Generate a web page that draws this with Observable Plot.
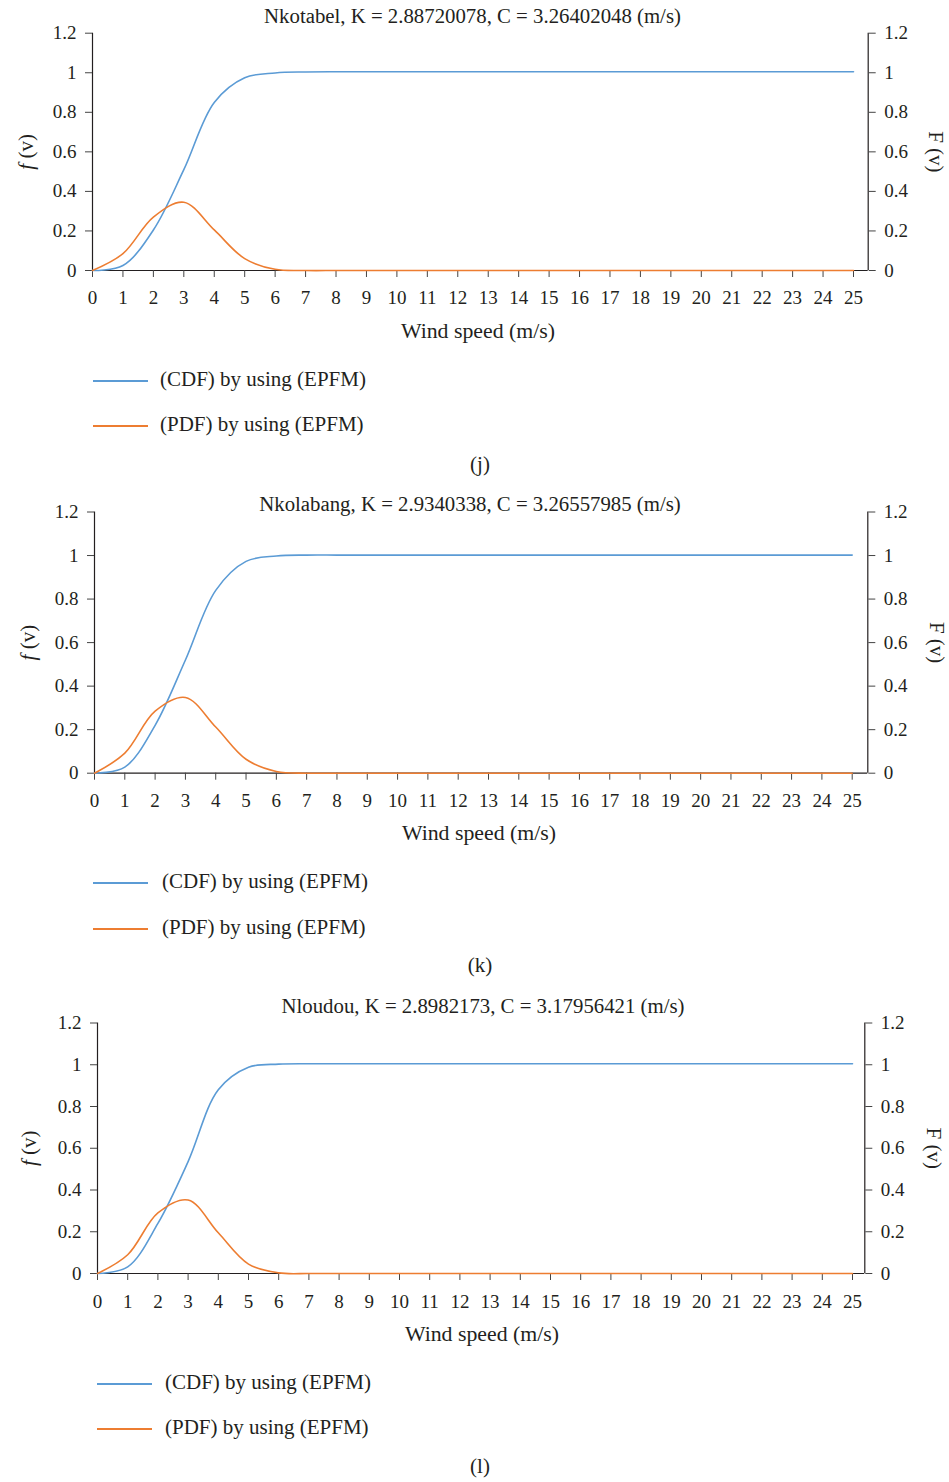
<!DOCTYPE html>
<html><head><meta charset="utf-8">
<script src="https://cdn.jsdelivr.net/npm/d3@7"></script>
<script src="https://cdn.jsdelivr.net/npm/@observablehq/plot@0.6"></script>
<style>
body{margin:0;background:#fff;width:949px;height:1482px;position:relative;overflow:hidden;font-family:"Liberation Serif",serif;color:#231f20}
.legtxt{position:absolute;font-size:21px;line-height:1;white-space:nowrap;transform:translateY(-55%)}
.sw{position:absolute;height:2px;width:55px}
.cap{position:absolute;font-size:21px;line-height:1;transform:translate(-50%,-55%)}
</style></head><body>
<script>
// ---- data ----
const speed = [0,1,2,3,4,5,6,7,8,9,10,11,12,13,14,15,16,17,18,19,20,21,22,23,24,25];
const yTicks = [0,0.2,0.4,0.6,0.8,1,1.2];
const seriesNames = ["(CDF) by using (EPFM)", "(PDF) by using (EPFM)"];
const seriesColors = ["#5B9BD5", "#ED7D31"];
const titles = [
  "Nkotabel, K = 2.88720078, C = 3.26402048 (m/s)",
  "Nkolabang, K = 2.9340338, C = 3.26557985 (m/s)",
  "Nloudou, K = 2.8982173, C = 3.17956421 (m/s)"
];
const captions = ["(j)", "(k)", "(l)"];
const xLabel = "Wind speed (m/s)";
const leftLabel = "f (v)";
const rightLabel = "F (v)";

const cdfNkotabel  = [0, 0.025, 0.205, 0.51, 0.85, 0.975, 0.999, 1.004, 1.005, 1.005, 1.005, 1.005, 1.005, 1.005, 1.005, 1.005, 1.005, 1.005, 1.005, 1.005, 1.005, 1.005, 1.005, 1.005, 1.005, 1.005];
const pdfNkotabel  = [0, 0.085, 0.27, 0.345, 0.205, 0.06, 0.006, 0, 0, 0, 0, 0, 0, 0, 0, 0, 0, 0, 0, 0, 0, 0, 0, 0, 0, 0];
const cdfNkolabang = [0, 0.028, 0.22, 0.52, 0.84, 0.973, 0.998, 1.002, 1.002, 1.002, 1.002, 1.002, 1.002, 1.002, 1.002, 1.002, 1.002, 1.002, 1.002, 1.002, 1.002, 1.002, 1.002, 1.002, 1.002, 1.002];
const pdfNkolabang = [0, 0.092, 0.285, 0.348, 0.212, 0.064, 0.008, 0, 0, 0, 0, 0, 0, 0, 0, 0, 0, 0, 0, 0, 0, 0, 0, 0, 0, 0];
const cdfNloudou   = [0, 0.032, 0.24, 0.536, 0.88, 0.988, 1.003, 1.005, 1.005, 1.005, 1.005, 1.005, 1.005, 1.005, 1.005, 1.005, 1.005, 1.005, 1.005, 1.005, 1.005, 1.005, 1.005, 1.005, 1.005, 1.005];
const pdfNloudou   = [0, 0.09, 0.29, 0.352, 0.195, 0.045, 0.003, 0, 0, 0, 0, 0, 0, 0, 0, 0, 0, 0, 0, 0, 0, 0, 0, 0, 0, 0];

const cdfs = [cdfNkotabel, cdfNkolabang, cdfNloudou];
const pdfs = [pdfNkotabel, pdfNkolabang, pdfNloudou];

// ---- layout (pixels) ----
const layout = [
  {top:0,   left:92,  right:867.7, x25:853,   y12:32.7,  y0:270,   bottom:350,  titleY:16,   titleX:472,   tickPad:13, xlabelY:331,  xlabelX:477.5, lDx:-66,   rDx:68,   legY:[381,426],   legX:93, textX:160, capY:466},
  {top:490, left:94,  right:867.3, x25:851.7, y12:511.5, y0:772.7, bottom:850,  titleY:504,  titleX:469.5, tickPad:13, xlabelY:833,  xlabelX:478.5, lDx:-66.5, rDx:68.7, legY:[883,929],   legX:93, textX:162, capY:967},
  {top:995, left:97,  right:864.3, x25:852,   y12:1022.5,y0:1273,  bottom:1350, titleY:1006, titleX:482.5, tickPad:14, xlabelY:1334, xlabelX:481.5, lDx:-68.5, rDx:69,   legY:[1384,1429], legX:97, textX:165, capY:1468}
];

const W = 949;
const ink = "#231f20";

layout.forEach((L, i) => {
  const rows = speed.map((s, j) => ({speed: s, cdf: cdfs[i][j], pdf: pdfs[i][j]}));
  const xmax = 25 * (L.right - L.left) / (L.x25 - L.left);
  const height = L.bottom - L.top;
  const frameCx = (L.left + L.right) / 2;
  const svg = Plot.plot({
    width: W,
    height,
    marginLeft: L.left,
    marginRight: W - L.right,
    marginTop: L.y12 - L.top,
    marginBottom: L.bottom - L.y0,
    x: {domain: [0, xmax]},
    y: {domain: [0, 1.2]},
    style: {fontFamily: "'Liberation Serif', serif", fontSize: "19px", color: ink, background: "transparent", overflow: "visible"},
    marks: [
      Plot.ruleY([0], {stroke: ink, strokeWidth: 1.2}),
      Plot.ruleX([0, xmax], {stroke: ink, strokeWidth: 1.2}),
      Plot.axisX({ticks: speed, tickSize: 7, tickPadding: L.tickPad, tickFormat: d => String(d), label: null, stroke: "#444"}),
      Plot.axisY({anchor: "left", ticks: yTicks, tickSize: 7, tickPadding: 9, tickFormat: d => String(Math.round(d * 10) / 10), label: null, stroke: "#444"}),
      Plot.axisY({anchor: "right", ticks: yTicks, tickSize: 7, tickPadding: 9, tickFormat: d => String(Math.round(d * 10) / 10), label: null, stroke: "#444"}),
      Plot.line(rows, {x: "speed", y: "cdf", stroke: seriesColors[0], strokeWidth: 1.6, curve: "catmull-rom"}),
      Plot.line(rows, {x: "speed", y: "pdf", stroke: seriesColors[1], strokeWidth: 1.6, curve: "catmull-rom"}),
      Plot.text([titles[i]], {frameAnchor: "top", dx: L.titleX - frameCx, dy: L.titleY - L.y12, lineAnchor: "middle", textAnchor: "middle", fontSize: 20.8, fill: ink}),
      Plot.text([xLabel], {frameAnchor: "bottom", dx: L.xlabelX - frameCx, dy: L.xlabelY - L.y0, lineAnchor: "middle", textAnchor: "middle", fontSize: 21.8, fill: ink}),
      Plot.text([leftLabel], {frameAnchor: "left", dx: L.lDx, rotate: -90, lineAnchor: "middle", textAnchor: "middle", fontSize: 21, fill: ink}),
      Plot.text([rightLabel], {frameAnchor: "right", dx: L.rDx, rotate: 90, lineAnchor: "middle", textAnchor: "middle", fontSize: 21, fill: ink})
    ]
  });
  // italic "f"
  svg.querySelectorAll("text").forEach(t => {
    if (t.textContent === leftLabel) {
      t.textContent = "";
      const ns = "http://www.w3.org/2000/svg";
      const a = document.createElementNS(ns, "tspan");
      a.setAttribute("font-style", "italic");
      a.textContent = "f";
      const b = document.createElementNS(ns, "tspan");
      b.textContent = " (v)";
      t.appendChild(a); t.appendChild(b);
    }
  });
  const panel = document.createElement("div");
  svg.style.position = "absolute";
  svg.style.top = L.top + "px";
  svg.style.left = "0px";
  panel.appendChild(svg);
  // legend
  seriesNames.forEach((name, k) => {
    const sw = document.createElement("div");
    sw.className = "sw";
    sw.style.left = L.legX + "px";
    sw.style.top = (L.legY[k] - 1) + "px";
    sw.style.background = seriesColors[k];
    panel.appendChild(sw);
    const tx = document.createElement("div");
    tx.className = "legtxt";
    tx.style.left = L.textX + "px";
    tx.style.top = L.legY[k] + "px";
    tx.textContent = name;
    panel.appendChild(tx);
  });
  const cap = document.createElement("div");
  cap.className = "cap";
  cap.style.left = "480px";
  cap.style.top = L.capY + "px";
  cap.textContent = captions[i];
  panel.appendChild(cap);
  document.body.appendChild(panel);
});
</script>
</body></html>
